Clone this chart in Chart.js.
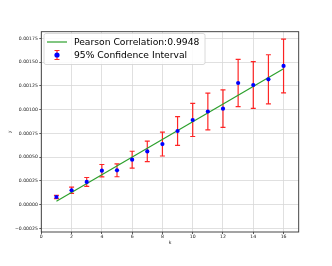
<!DOCTYPE html>
<html><head><meta charset="utf-8">
<script src="https://cdn.jsdelivr.net/npm/chart.js@4.4.0/dist/chart.umd.min.js"></script>
<style>html,body{margin:0;padding:0;background:#fff;}#wrap{width:332px;height:266px;position:relative;}</style>
</head><body><div id="wrap"><canvas id="c" width="332" height="266"></canvas></div>
<script>
const kValues = [1,2,3,4,5,6,7,8,9,10,11,12,13,14,15,16];
const yValues = [8.1e-5,1.52e-4,2.39e-4,3.58e-4,3.62e-4,4.73e-4,5.6e-4,6.38e-4,7.75e-4,8.91e-4,9.8e-4,1.01e-3,1.28e-3,1.259e-3,1.319e-3,1.459e-3];
const yErrors = [1.8e-5,3.2e-5,4.7e-5,6.5e-5,6.8e-5,8.9e-5,1.08e-4,1.26e-4,1.52e-4,1.74e-4,1.93e-4,1.97e-4,2.49e-4,2.45e-4,2.58e-4,2.82e-4];
const fitK = [1,16];
const fitY = [3.6e-5,1.43e-3];
const xTicks = [0,2,4,6,8,10,12,14,16];
const yTicks = [-0.00025,0,0.00025,0.0005,0.00075,0.001,0.00125,0.0015,0.00175];
const legendLabels = ['Pearson Correlation:0.9948','95% Confidence Interval'];
const xTitle = 'k', yTitle = 'y';

const FONT = 'DejaVu Sans';
Chart.defaults.font.family = FONT;
const tickFont = {family: FONT, size: 4.6};

const errorBars = {
  id: 'errorBars',
  beforeDatasetsDraw(chart) {
    const ctx = chart.ctx, xs = chart.scales.x, ys = chart.scales.y;
    ctx.save();
    ctx.strokeStyle = 'rgba(255,0,0,0.85)';
    ctx.lineWidth = 1.2;
    kValues.forEach((k, i) => {
      const x = xs.getPixelForValue(k);
      const y1 = ys.getPixelForValue(yValues[i] + yErrors[i]);
      const y2 = ys.getPixelForValue(yValues[i] - yErrors[i]);
      ctx.beginPath();
      ctx.moveTo(x, y1); ctx.lineTo(x, y2);
      ctx.moveTo(x - 2.5, y1); ctx.lineTo(x + 2.5, y1);
      ctx.moveTo(x - 2.5, y2); ctx.lineTo(x + 2.5, y2);
      ctx.stroke();
    });
    ctx.restore();
  }
};

const frameAndLegend = {
  id: 'frameAndLegend',
  afterDraw(chart) {
    const ctx = chart.ctx, a = chart.chartArea;
    ctx.save();
    ctx.strokeStyle = '#333';
    ctx.lineWidth = 0.9;
    ctx.strokeRect(a.left, a.top, a.right - a.left, a.bottom - a.top);
    const lx = 44, ly = 33.5, lw = 161, lh = 31;
    ctx.beginPath();
    ctx.roundRect(lx, ly, lw, lh, 2);
    ctx.fillStyle = 'rgba(255,255,255,0.85)';
    ctx.fill();
    ctx.strokeStyle = '#d0d0d0';
    ctx.lineWidth = 0.8;
    ctx.stroke();
    ctx.strokeStyle = '#2ca02c';
    ctx.lineWidth = 1.2;
    ctx.beginPath(); ctx.moveTo(47, 42); ctx.lineTo(67, 42); ctx.stroke();
    ctx.strokeStyle = 'rgba(255,0,0,0.85)';
    ctx.lineWidth = 1.2;
    ctx.beginPath();
    ctx.moveTo(57, 50.5); ctx.lineTo(57, 59.5);
    ctx.moveTo(54.5, 50.5); ctx.lineTo(59.5, 50.5);
    ctx.moveTo(54.5, 59.5); ctx.lineTo(59.5, 59.5);
    ctx.stroke();
    ctx.fillStyle = '#0000ff';
    ctx.beginPath(); ctx.arc(57, 55, 2.6, 0, Math.PI * 2); ctx.fill();
    ctx.fillStyle = '#000';
    ctx.font = '9.2px "' + FONT + '"';
    ctx.textBaseline = 'middle';
    ctx.textAlign = 'left';
    ctx.fillText(legendLabels[0], 74, 42.5);
    ctx.fillText(legendLabels[1], 74, 55.5);
    ctx.restore();
  }
};

new Chart(document.getElementById('c'), {
  type: 'scatter',
  data: {
    datasets: [
      {
        label: legendLabels[1],
        data: kValues.map((k, i) => ({x: k, y: yValues[i]})),
        backgroundColor: '#0000ff',
        borderColor: '#0000ff',
        pointRadius: 2.1,
        pointBorderWidth: 0,
        showLine: false
      },
      {
        label: legendLabels[0],
        data: fitK.map((k, i) => ({x: k, y: fitY[i]})),
        borderColor: '#2ca02c',
        borderWidth: 1.2,
        pointRadius: 0,
        showLine: true,
        fill: false
      }
    ]
  },
  options: {
    responsive: false,
    animation: false,
    devicePixelRatio: 1,
    layout: {padding: {left: 0, right: 33.3, top: 31.7, bottom: 0}},
    plugins: {legend: {display: false}, tooltip: {enabled: false}},
    scales: {
      x: {
        type: 'linear', min: 0, max: 17,
        afterBuildTicks: s => { s.ticks = xTicks.map(v => ({value: v})); },
        afterFit: s => { s.height = 266 - 232; },
        ticks: {font: tickFont, color: '#222', padding: 0.5, maxRotation: 0, autoSkip: false, callback: v => String(v)},
        grid: {color: '#d8d8d8', lineWidth: 0.8, tickLength: 2, tickColor: '#333', drawTicks: true},
        border: {display: false},
        title: {display: true, text: xTitle, font: tickFont, color: '#222', padding: {top: 0, bottom: 20}}
      },
      y: {
        type: 'linear', min: -0.0002871, max: 0.0018194,
        afterBuildTicks: s => { s.ticks = yTicks.map(v => ({value: v})); },
        afterFit: s => { s.width = 41.3; },
        ticks: {font: tickFont, color: '#222', padding: 1.5, autoSkip: false,
          callback: v => v.toFixed(5).replace('-', '\u2212')},
        grid: {color: '#d8d8d8', lineWidth: 0.8, tickLength: 2, tickColor: '#333', drawTicks: true},
        border: {display: false},
        title: {display: true, text: yTitle, font: tickFont, color: '#222', padding: {top: 7, bottom: 0}}
      }
    }
  },
  plugins: [errorBars, frameAndLegend]
});
</script></body></html>
